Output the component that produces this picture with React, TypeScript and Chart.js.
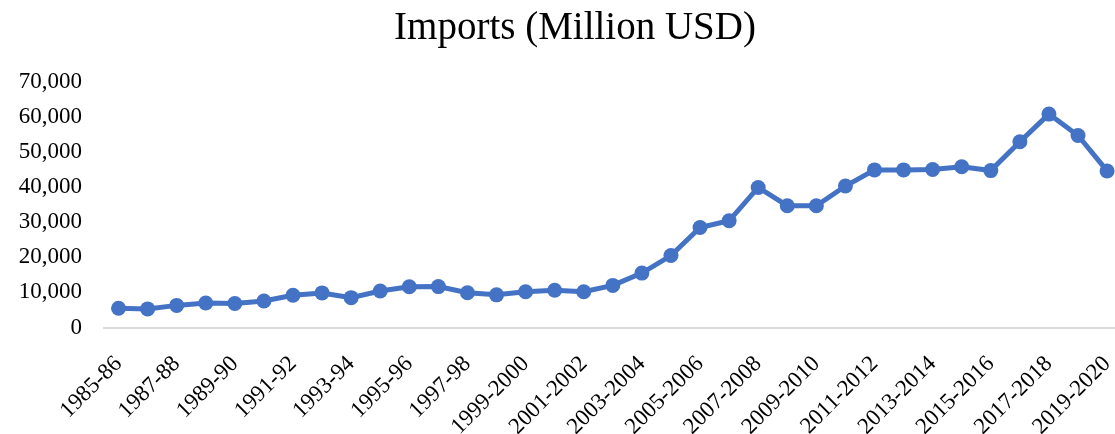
import React, { useEffect, useRef } from "react";
import { Chart, registerables } from "chart.js";

Chart.register(...registerables);

const categories: string[] = [
  "1985-86", "1986-87", "1987-88", "1988-89", "1989-90", "1990-91", "1991-92",
  "1992-93", "1993-94", "1994-95", "1995-96", "1996-97", "1997-98", "1998-99",
  "1999-2000", "2000-2001", "2001-2002", "2002-2003", "2003-2004", "2004-2005",
  "2005-2006", "2006-2007", "2007-2008", "2008-2009", "2009-2010", "2010-2011",
  "2011-2012", "2012-2013", "2013-2014", "2014-2015", "2015-2016", "2016-2017",
  "2017-2018", "2018-2019", "2019-2020",
];

const imports: number[] = [
  5500, 5300, 6300, 7000, 6850, 7550, 9200,
  9850, 8500, 10400, 11600, 11650, 9900, 9300,
  10200, 10600, 10200, 12000, 15500, 20500,
  28500, 30400, 39900, 34700, 34700, 40300,
  44900, 44900, 45000, 45800, 44700, 52900,
  60800, 54700, 44600,
];

const yTicks: number[] = [0, 10000, 20000, 30000, 40000, 50000, 60000, 70000];

const FONT = "'Liberation Serif', 'Times New Roman', serif";

export default function App() {
  const ref = useRef<HTMLCanvasElement | null>(null);

  useEffect(() => {
    if (!ref.current) return;
    const chart = new Chart(ref.current, {
      type: "line",
      data: {
        labels: categories,
        datasets: [
          {
            label: "Imports",
            data: imports,
            borderColor: "#4472C4",
            backgroundColor: "#4472C4",
            borderWidth: 5,
            pointRadius: 7.5,
            pointBorderWidth: 0,
            pointBackgroundColor: "#4472C4",
            tension: 0,
            yAxisID: "y",
          },
        ],
      },
      options: {
        animation: false,
        responsive: false,
        maintainAspectRatio: false,
        layout: { padding: { left: 0, right: 0, top: 0, bottom: 0 } },
        plugins: {
          legend: { display: false },
          tooltip: { enabled: false },
          title: {
            display: true,
            text: "Imports (Million USD)",
            color: "#000000",
            font: { family: FONT, size: 39, weight: "normal" },
            padding: { top: 5, bottom: 30 },
          },
        },
        scales: {
          x: {
            type: "category",
            offset: true,
            grid: { display: false, drawTicks: false },
            border: { display: true, color: "#D9D9D9", width: 2 },
            ticks: {
              autoSkip: false,
              maxRotation: 45,
              minRotation: 45,
              padding: 23,
              color: "#000000",
              font: { family: FONT, size: 23 },
              callback: (_v: any, i: number) => (i % 2 === 0 ? categories[i] : null),
            },
            afterFit: (s: any) => {
              s.height = 434 - 327.5;
            },
          },
          y: {
            min: 0,
            max: 70000,
            grid: { display: false, drawTicks: false },
            border: { display: false },
            afterBuildTicks: (s: any) => {
              s.ticks = yTicks.map((v) => ({ value: v }));
            },
            ticks: {
              padding: 22,
              color: "#000000",
              font: { family: FONT, size: 23 },
              callback: (v: any) => Number(v).toLocaleString("en-US"),
            },
            afterFit: (s: any) => {
              s.width = 104;
            },
          },
          spacer: {
            type: "linear",
            position: "right",
            display: true,
            grid: { display: false, drawTicks: false },
            border: { display: false },
            ticks: { display: false },
            afterFit: (s: any) => {
              s.width = 27.5;
            },
          },
        },
      },
    });
    return () => chart.destroy();
  }, []);

  return (
    <div
      style={{
        position: "fixed",
        left: 0,
        top: 0,
        width: 1115,
        height: 434,
        overflow: "hidden",
        background: "#fff",
      }}
    >
      <canvas ref={ref} width={1150} height={434} style={{ width: 1150, height: 434, display: "block" }} />
    </div>
  );
}
